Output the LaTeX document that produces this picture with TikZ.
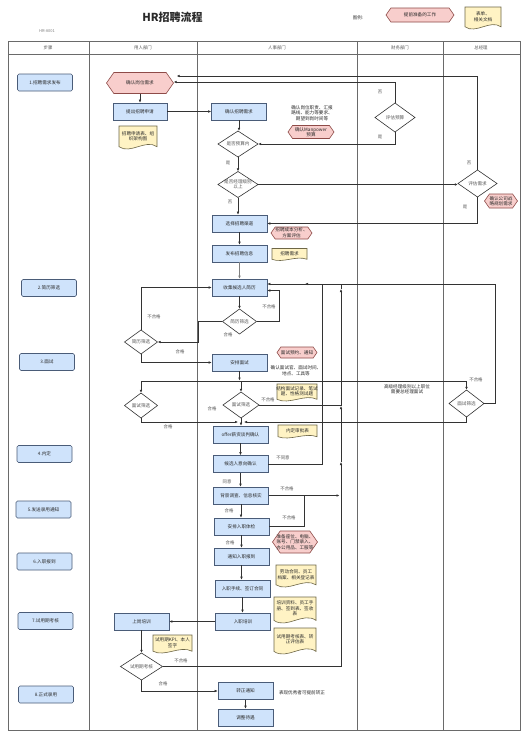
\documentclass[tikz,border=0pt]{standalone}
\usepackage{fontspec}
\setmainfont{Noto Sans CJK SC}
\usetikzlibrary{arrows.meta,calc}
\definecolor{bfill}{HTML}{CFE3FB}
\definecolor{bdraw}{HTML}{4A5C78}
\definecolor{pfill}{HTML}{F8CECC}
\definecolor{pdraw}{HTML}{8E4B48}
\definecolor{yfill}{HTML}{FFF3C4}
\definecolor{ydraw}{HTML}{6E6747}
\definecolor{lc}{HTML}{333333}
\definecolor{gc}{HTML}{6A6A6A}
\definecolor{tc}{HTML}{2A2A2A}
\definecolor{lt}{HTML}{555555}
\newcommand{\fs}{\fontsize{4.6}{5.5}\selectfont}
\newcommand{\fl}{\fontsize{4.4}{5.2}\selectfont}
\tikzset{
 box/.style={draw=bdraw, fill=bfill, line width=0.6pt, minimum width=55, minimum height=17, inner sep=0pt, font=\fs, text=tc, align=center},
 stepbox/.style={box, rounded corners=1.5pt},
 txt/.style={inner sep=0pt, font=\fs, text=tc, align=center},
 lbl/.style={inner sep=0pt, font=\fl, text=lt, align=center},
 conn/.style={draw=lc, line width=0.55pt},
 arr/.style={conn, -{Latex[length=3pt,width=2.6pt]}},
 hexs/.style={draw=pdraw, fill=pfill, line width=0.6pt},
 docs/.style={draw=ydraw, fill=yfill, line width=0.6pt},
 dias/.style={draw=lc, fill=white, line width=0.6pt},
 gridl/.style={draw=gc, line width=0.7pt},
}
\newcommand{\hexnode}[5]{%
 \path[hexs,shift={(#2)}] (-#3/2,0) -- (-#3/2+#4*0.35,-#4/2) -- (#3/2-#4*0.35,-#4/2) -- (#3/2,0) -- (#3/2-#4*0.35,#4/2) -- (-#3/2+#4*0.35,#4/2) -- cycle;
 \node[txt, minimum width=#3, minimum height=#4] (#1) at (#2) {#5};}
\newcommand{\docnode}[5]{%
 \path[docs,shift={(#2)}] (-#3/2,-#4/2) -- (#3/2,-#4/2) -- (#3/2,#4*0.4) .. controls (#3*0.2,#4*0.05) and (-#3*0.2,#4*0.75) .. (-#3/2,#4*0.4) -- cycle;
 \node[txt, minimum width=#3, minimum height=#4*0.8] (#1) at ($(#2)+(0,-#4*0.06)$) {#5};}
\newcommand{\dianode}[5]{%
 \path[dias,shift={(#2)}] (-#3/2,0) -- (0,-#4/2) -- (#3/2,0) -- (0,#4/2) -- cycle;
 \node[txt, text=lt, minimum width=#3, minimum height=#4] (#1) at (#2) {#5};}
\begin{document}
\begin{tikzpicture}[x=1pt,y=-1pt]
\useasboundingbox (0,0) rectangle (528,737);
\fill[white] (0,0) rectangle (528,737);
% title and legend
\node[font=\fontsize{11}{13}\selectfont\bfseries, text=tc, inner sep=0pt] (title) at (172.5,17.5) {HR招聘流程};
\node[lbl, font=\fontsize{4}{5}\selectfont, text=gray] (code) at (47,31.5) {HR-A001};
\node[lbl, text=tc] (legend) at (358,18) {图例:};
\hexnode{lhex}{420,15}{68}{14}{提前准备的工作}
\docnode{ldoc}{483,18}{36}{22}{表单、\\相关文档}
% grid
\draw[gridl] (8,41) rectangle (520,730);
\draw[gridl] (8,54) -- (520,54);
\foreach \xx in {89,197,357,443} \draw[gridl] (\xx,41) -- (\xx,730);
\node[lbl] (h1) at (48,47.5) {步骤};
\node[lbl] (h2) at (143,47.5) {用人部门};
\node[lbl] (h3) at (277,47.5) {人事部门};
\node[lbl] (h4) at (400,47.5) {财务部门};
\node[lbl] (h5) at (481,47.5) {总经理};
% steps
\node[stepbox] (s1) at (45,82.5) {1.招聘需求发布};
\node[stepbox] (s2) at (49,288) {2.简历筛选};
\node[stepbox] (s3) at (47,362) {3.面试};
\node[stepbox] (s4) at (44.5,454) {4.内定};
\node[stepbox] (s5) at (43.5,509.5) {5.发送录用通知};
\node[stepbox] (s6) at (44.5,561.5) {6.入职报到};
\node[stepbox] (s7) at (45.5,621) {7.试用期考核};
\node[stepbox] (s8) at (46,694.5) {8.正式录用};
% 用人部门
\hexnode{hpos}{140,83}{67}{21}{确认岗位需求}
\node[box, minimum width=54] (breq) at (140,111.5) {提出招聘申请};
\docnode{dreq}{138,137.5}{38}{23}{招聘申请表、组\\织架构图}
\dianode{dcv1}{141,342}{33}{24}{简历筛选}
\dianode{div1}{141,405.5}{33}{25}{面试筛选}
\node[box] (bpost) at (141.5,621.5) {上岗培训};
\docnode{dkpi}{172.5,644}{39}{18}{试用期KPI、本人\\签字}
\dianode{dtrial}{141.5,666.5}{42}{27}{试用期考核}
% 人事部门
\node[box] (bconf) at (239,111.5) {确认招聘需求};
\node[txt] (tconf) at (312,113) {确认岗位职责、汇报\\路线、能力等要求、\\期望到岗时间等};
\hexnode{hmp}{311,132}{46}{13}{确认Manpower\\预算}
\dianode{dbud}{238,144}{40}{26}{是否预算内}
\dianode{dmgr}{238,184.5}{40}{26}{是否经理级别\\以上}
\node[box] (bchan) at (239.5,223.5) {选择招聘渠道};
\hexnode{hcost}{291.5,233}{41}{12}{招聘成本分析、\\方案评估}
\node[box] (bpub) at (239.5,253.5) {发布招聘信息};
\docnode{dneed}{289.5,254.5}{35}{12}{招聘需求}
\node[box] (bcol) at (239.5,287.5) {收集候选人简历};
\dianode{dcv2}{239.5,321.5}{34}{25}{简历筛选}
\hexnode{hiv}{297,352.5}{40}{11}{面试预约、通知}
\node[box] (barr) at (239.5,362.5) {安排面试};
\node[txt] (tarr) at (296,370.5) {确认面试官、面试时间、\\地点、工具等};
\dianode{div2}{241,405}{36}{26}{面试筛选}
\docnode{diva}{297,392.5}{40}{17}{结构面试记录、笔试\\题、性格测试题}
\node[box] (boffer) at (240.5,434.5) {offer薪资谈判确认};
\docnode{doff}{297.5,431.5}{39}{13}{内定审批表}
\node[box] (bint) at (240.5,464) {候选人意向确认};
\node[box] (bbg) at (241,495.5) {背景调查、信息核实};
\node[box] (bmed) at (241.5,526.5) {安排入职体检};
\hexnode{hseat}{295,542}{45}{22}{准备座位、电脑、\\账号、门禁录入、\\办公用品、工服等}
\node[box] (bnotif) at (241.5,556.5) {通知入职报到};
\docnode{dcon}{296,576}{40}{22}{劳动合同、员工\\档案、相关登记表}
\node[box] (bproc) at (242.5,588.5) {入职手续、签订合同};
\docnode{dtr}{295,610}{42}{26}{培训资料、员工手\\册、签到表、签收\\表}
\node[box] (btrain) at (243,621.5) {入职培训};
\docnode{dev}{295,641}{42}{26}{试用期考核表、转\\正评估表}
\node[box] (breg) at (245.5,691) {转正通知};
\node[txt] (treg) at (302,693) {表现优秀者可提前转正};
\node[box] (badj) at (245.5,717.5) {调整待遇};
% 财务部门 / 总经理
\dianode{dfin}{395,117.5}{40}{29}{评估预算}
\dianode{dgm}{477.5,183.5}{39}{27}{评估需求}
\hexnode{hstr}{501,201}{33}{14}{确认公司战\\略规划需求}
\dianode{div3}{466.5,403.5}{35}{27}{面试筛选}
\node[txt] (tgm) at (407,389) {高级经理级别以上职位\\需要总经理面试};
% helper coordinates
\coordinate (jrow) at (0,381);
\coordinate (mrow) at (0,422);
\coordinate (rail) at (341,0);
% connectors
\draw[arr] (hpos.south) -- (breq.north);
\draw[arr] (breq.east) -- (bconf.west);
\draw[arr] (bconf.south) -- (bconf.south |- dbud.north);
\draw[arr] (dbud.south) -- (dmgr.north);
\draw[arr] (dmgr.south) -- (dmgr.south |- bchan.north);
\draw[arr] (bchan.south) -- (bpub.north);
\draw[arr, draw=gray] (bpub.south) -- (bcol.north);
\draw[arr] (bcol.south) -- (dcv2.north);
\draw[arr] (dfin.north) |- ($(hpos.east)+(0,-1)$);
\draw[arr] (dgm.north) |- ($(hpos.east)+(3,-7)$);
\draw[arr] (dfin.south) |- (dbud.east);
\draw[arr] (dmgr.east) -- (dmgr.east -| dgm.west);
\draw[arr] (dgm.south) |- (bchan.east);
\draw[arr] (dcv1.north) |- (bcol.west);
\draw[arr] (dcv2.east) -| ($(bcol.east)+(12,3)$) -- ($(bcol.east)+(0,3)$);
\draw[arr] (dcv2.west) -| (198,342) -- (dcv1.east);
\draw[arr] (dcv1.south) |- (barr.west);
\draw[conn] (div1.north |- jrow) -- (div3.north |- jrow);
\draw[arr] (barr.south) -- ($(barr.south |- jrow)+(0,-0.5)$);
\draw[arr] (div1.north |- jrow) -- (div1.north);
\draw[arr] (div2.north |- jrow) -- (div2.north);
\draw[arr] (div3.north |- jrow) -- (div3.north);
\draw[arr] (div1.south) |- ($(div2.south |- mrow)+(-3,0)$);
\draw[arr] (div3.south) |- ($(div2.south |- mrow)+(3,0)$);
\draw[arr] (div2.south) -- (div2.south |- boffer.north);
\draw[conn] (div2.east) -- (div2.east -| rail);
\draw[arr] (dtrial.east) -| (341,462);
\draw[arr] (341,462) -- (341,406);
\draw[arr] (341,406) -- (341,289);
\draw[arr] (341,289) |- ($(bcol.east)+(0,-3.5)$);
\draw[conn] (bint.east) -| (322,284);
\draw[arr] (div3.east) -| (495,284) -- (305,284);
\draw[arr] (bbg.east) -- ($(bbg.east -| rail)+(-1.5,0)$);
\draw[conn] (bmed.east) -| (304,495.5);
\draw[arr] (boffer.south) -- (bint.north);
\draw[arr] (bint.south) -- (bint.south |- bbg.north);
\draw[arr] (bbg.south) -- (bbg.south |- bmed.north);
\draw[arr] (bmed.south) -- (bnotif.north);
\draw[arr] (bnotif.south) -- (bnotif.south |- bproc.north);
\draw[arr] (bproc.south) -- (bproc.south |- btrain.north);
\draw[arr] (btrain.west) -- (bpost.east);
\draw[arr] (bpost.south) -- (dtrial.north);
\draw[arr] (dtrial.south) |- (breg.west);
\draw[arr] (breg.south) -- (badj.north);
% labels
\node[lbl] (l1) at (380,92) {否};
\node[lbl] (l2) at (380,137) {是};
\node[lbl] (l3) at (228,163) {是};
\node[lbl] (l4) at (230,202) {否};
\node[lbl] (l5) at (469,163) {否};
\node[lbl] (l6) at (465,207) {是};
\node[lbl] (l7) at (154,317) {不合格};
\node[lbl] (l8) at (269,307) {不合格};
\node[lbl] (l9) at (228,335) {合格};
\node[lbl] (l10) at (180,352) {合格};
\node[lbl] (l11) at (268,400) {不合格};
\node[lbl] (l12) at (212,409) {合格};
\node[lbl] (l13) at (476,380) {不合格};
\node[lbl] (l14) at (168,427) {合格};
\node[lbl] (l15) at (283,458) {不同意};
\node[lbl] (l16) at (227,482) {同意};
\node[lbl] (l17) at (287,489) {不合格};
\node[lbl] (l18) at (229,511) {合格};
\node[lbl] (l19) at (289,518) {不合格};
\node[lbl] (l20) at (230,543) {合格};
\node[lbl] (l21) at (181,661) {不合格};
\node[lbl] (l22) at (163,684) {合格};
\end{tikzpicture}
\end{document}
